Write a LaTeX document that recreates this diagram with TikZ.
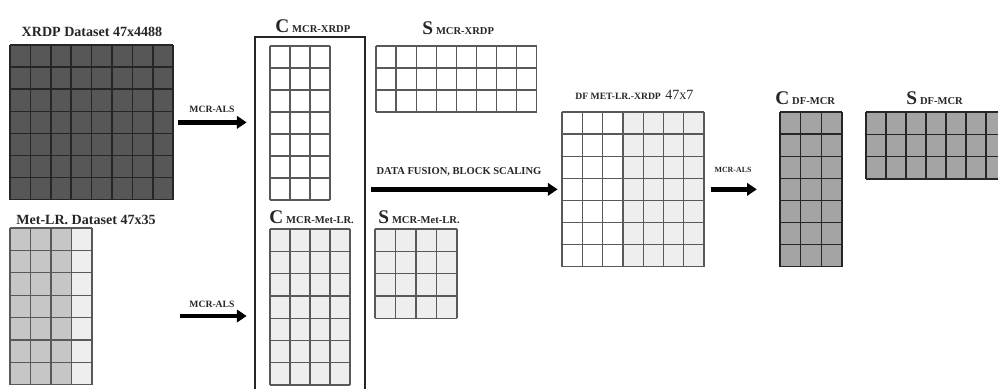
\documentclass[tikz,border=0pt]{standalone}
\usepackage{fontspec}
\setmainfont{Liberation Serif}
\usetikzlibrary{arrows.meta,fit}

\definecolor{darkcell}{HTML}{575757}
\definecolor{midcell}{HTML}{C6C6C6}
\definecolor{lightcell}{HTML}{EEEEEE}
\definecolor{mcrcell}{HTML}{A4A4A4}

\tikzset{
  gridline/.style={draw=black!65, line width=0.7pt},
  darkline/.style={draw=black!85, line width=0.8pt},
  bigarrow/.style={line width=2.8pt, -{Triangle[length=5.5pt,width=7pt]}},
  steplabel/.style={font=\bfseries\fontsize{5.5}{6}\selectfont, text=black!85},
  title/.style={font=\bfseries\fontsize{8}{9}\selectfont, text=black!85},
  blocktitle/.style={anchor=base west, font=\bfseries, text=black!85, inner sep=0pt},
}

% block of cells: name, x, y, columns, rows, cell width, cell height, line style, fills (from/to/colour)
\newcommand{\gridblock}[9]{%
  \foreach \a/\b/\c in {#9}
    \fill[\c] (#2+\a*#6,#3) rectangle (#2+\b*#6,#3+#5*#7);
  \foreach \i in {0,...,#4}
    \draw[#8] (#2+\i*#6,#3) -- ++(0,#5*#7);
  \foreach \j in {0,...,#5}
    \draw[#8] (#2,#3+\j*#7) -- ++(#4*#6,0);
  \coordinate (#1-nw) at (#2,#3);
  \coordinate (#1-se) at (#2+#4*#6,#3+#5*#7);
  \node[fit=(#1-nw)(#1-se), inner sep=0pt] (#1) {};
}
\newcommand{\blocklabel}[2]{{\fontsize{11}{12}\selectfont #1}\,{\fontsize{6}{7}\selectfont #2}}

\begin{document}
\begin{tikzpicture}[x=0.02cm, y=-0.02cm]
  \useasboundingbox (0,0) rectangle (998,389);

  % Input data sets
  \gridblock{xrdp}{10}{45}{8}{7}{20.4}{22.1}{darkline}{0/8/darkcell}
  \gridblock{metlr}{10}{228}{4}{7}{20.5}{22.4}{gridline}{0/3/midcell, 3/4/lightcell}
  \node[title] (xrdptitle) at (92,32) {XRDP Dataset 47x4488};
  \node[title] (metlrtitle) at (86,220) {Met-LR. Dataset 47x35};

  % Separate MCR-ALS results
  \coordinate (frame-nw) at (255,37);
  \coordinate (frame-se) at (365,400);
  \node[draw=black!85, line width=1.5pt, fit=(frame-nw)(frame-se), inner sep=0pt] (frame) {};
  \gridblock{cxrdp}{270}{46}{3}{7}{20}{22}{gridline}{0/3/white}
  \gridblock{cmetlr}{270}{229}{4}{7}{20}{22.3}{gridline}{0/4/lightcell}
  \gridblock{sxrdp}{376}{46}{8}{3}{20.1}{22}{gridline}{0/8/white}
  \gridblock{smetlr}{375}{229}{4}{4}{20.5}{22.3}{gridline}{0/4/lightcell}
  \node[blocktitle] (cxrdplab) at (275,32) {\blocklabel{C}{MCR-XRDP}};
  \node[blocktitle] (sxrdplab) at (422,34) {\blocklabel{S}{MCR-XRDP}};
  \node[blocktitle] (cmetlrlab) at (269,223) {\blocklabel{C}{MCR-Met-LR.}};
  \node[blocktitle] (smetlrlab) at (378,223) {\blocklabel{S}{MCR-Met-LR.}};

  % Fused data and its resolution
  \gridblock{df}{562}{112}{7}{7}{20.3}{22.1}{gridline}{0/3/white, 3/7/lightcell}
  \gridblock{cdf}{780}{112}{3}{7}{20.7}{22.1}{darkline}{0/3/mcrcell}
  \gridblock{sdf}{866}{112}{7}{3}{20}{22.3}{darkline}{0/7/mcrcell}
  \node[blocktitle] (dftitle) at (575,99)
    {{\fontsize{5.5}{6}\selectfont DF MET-LR.-XRDP}\ {\fontsize{8}{9}\selectfont\mdseries 47x7}};
  \node[blocktitle] (cdflab) at (775,104) {\blocklabel{C}{DF-MCR}};
  \node[blocktitle] (sdflab) at (906,104) {\blocklabel{S}{DF-MCR}};

  % Arrows
  \coordinate (mcr2start) at (180,316);
  \draw[bigarrow, shorten <=2.8pt, shorten >=4pt] (xrdp.east) -- (frame.west |- xrdp.east);
  \draw[bigarrow, shorten >=4pt] (mcr2start) -- (mcr2start -| frame.west);
  \draw[bigarrow, shorten <=2.8pt, shorten >=2.3pt] (frame.east |- df.west) -- (df.west);
  \draw[bigarrow, shorten <=3.5pt, shorten >=13pt] (df.east) -- (cdf.west);
  \node[steplabel] (mcr1lab) at (212,109) {MCR-ALS};
  \node[steplabel] (mcr2lab) at (212,304) {MCR-ALS};
  \node[steplabel, font=\bfseries\fontsize{6}{7}\selectfont] (fusionlab) at (459,172) {DATA FUSION, BLOCK SCALING};
  \node[steplabel, font=\bfseries\fontsize{4.5}{5}\selectfont] (mcr3lab) at (733,170) {MCR-ALS};
\end{tikzpicture}
\end{document}
